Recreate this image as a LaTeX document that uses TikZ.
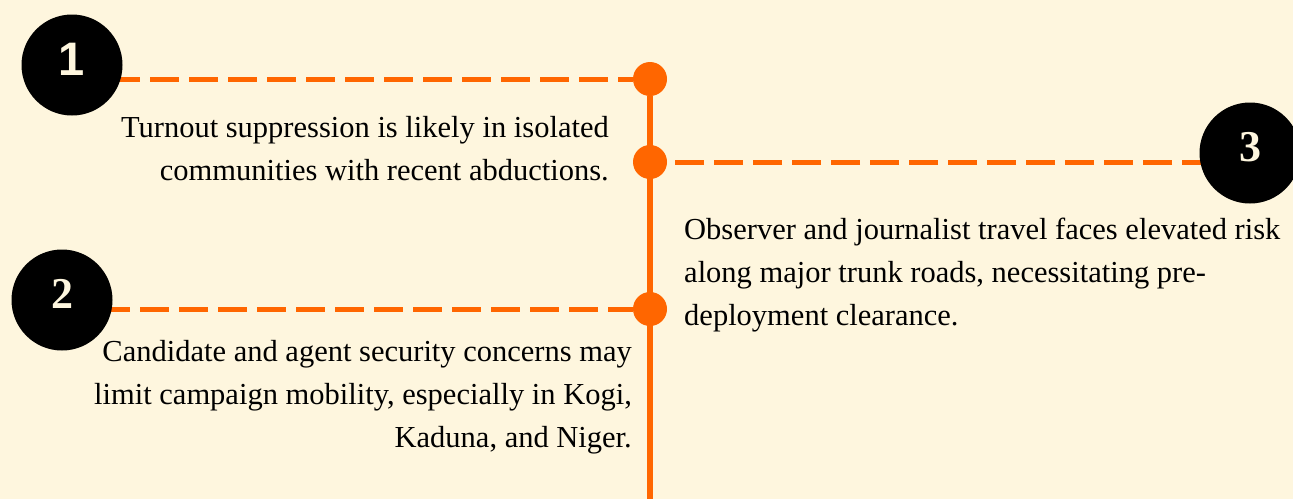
\documentclass[tikz,border=0pt]{standalone}
\usepackage{fontspec}
\setmainfont{Liberation Serif}
\newfontfamily\numsans{Liberation Sans}
\usepackage{tikz}

\definecolor{cream}{HTML}{FEF6DE}
\definecolor{tangerine}{HTML}{FF6600}

\pgfdeclarelayer{back}
\pgfdeclarelayer{links}
\pgfsetlayers{back,links,main}

\tikzset{
  numcirc/.style={circle, fill=black, minimum size=101pt, inner sep=0pt},
  numtxt/.style={text=cream, font=\fontsize{44}{44}\selectfont\bfseries, yshift=6pt},
  dot/.style={circle, fill=tangerine, minimum size=34pt, inner sep=0pt},
  spine/.style={draw=tangerine, line width=6pt},
  link/.style={draw=tangerine, line width=5pt, dash pattern=on 29pt off 10pt},
  note/.style={inner sep=0pt, font=\fontsize{30.5}{43}\selectfont}
}

\begin{document}
\begin{tikzpicture}[x=1pt, y=-1pt]
    \useasboundingbox (0,0) rectangle (1293,499);
    \begin{pgfonlayer}{back}
        \fill[cream] (0,0) rectangle (1293,499);
    \end{pgfonlayer}

    % Number circles
    \node[numcirc, label={[numtxt]center:{\fontsize{47}{47}\numsans\bfseries 1}}] (num1) at (72,65) {};
    \node[numcirc, label={[numtxt]center:2}] (num2) at (62,300) {};
    \node[numcirc, label={[numtxt]center:3}] (num3) at (1250,153) {};

    % Dots on the spine
    \node[dot] (dot1) at (650,79) {};
    \node[dot] (dot3) at (650,162) {};
    \node[dot] (dot2) at (650,309) {};
    \coordinate (foot) at (650,499);

    % Spine and links
    \begin{pgfonlayer}{links}
        \draw[spine] (dot1) -- (foot);
        \draw[link] (dot1 -| num1) -- (dot1);
        \draw[link] (dot2 -| num2) -- (dot2);
        \draw[link] (dot3 -| num3) -- (dot3);
    \end{pgfonlayer}

    % Texts (base anchor sits on the last line)
    \node[note, align=right, anchor=base east] (txt1) at (609,180)
        {Turnout suppression is likely in isolated\\ communities with recent abductions.};
    \node[note, align=left, anchor=base west] (txt3) at (684,325)
        {Observer and journalist travel faces elevated risk\\ along major trunk roads, necessitating pre-\\ deployment clearance.};
    \node[note, align=right, anchor=base east] (txt2) at (632,447)
        {Candidate and agent security concerns may\\ limit campaign mobility, especially in Kogi,\\ Kaduna, and Niger.};
\end{tikzpicture}
\end{document}
